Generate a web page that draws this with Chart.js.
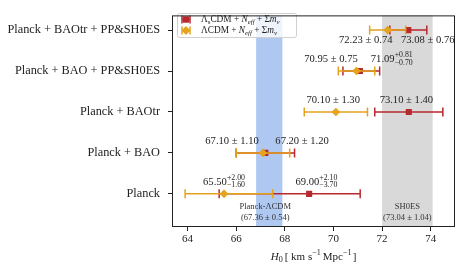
<!DOCTYPE html>
<html>
<head>
<meta charset="utf-8">
<script src="https://cdn.jsdelivr.net/npm/chart.js@4.4.0/dist/chart.umd.min.js"></script>
<style>
  html, body { margin: 0; padding: 0; background: #fff; }
  #wrap { width: 463px; height: 271px; }
</style>
</head>
<body>
<div id="wrap"><canvas id="chart"></canvas></div>
<script>
// rows top to bottom
const rows = ['Planck + BAOtr + PP&SH0ES', 'Planck + BAO + PP&SH0ES', 'Planck + BAOtr', 'Planck + BAO', 'Planck']
// Lambda_s CDM + Neff + sum m_nu (red)
const sH0 = [73.08, 71.09, 73.10, 67.20, 69.00]
const sUp = [0.76, 0.81, 1.40, 1.20, 2.10]
const sDn = [0.76, 0.70, 1.40, 1.20, 3.70]
// Lambda CDM + Neff + sum m_nu (yellow)
const lH0 = [72.23, 70.95, 70.10, 67.10, 65.50]
const lUp = [0.74, 0.75, 1.30, 1.10, 2.00]
const lDn = [0.74, 0.75, 1.30, 1.10, 1.60]
const xTicks = [64, 66, 68, 70, 72, 74]
const planck = { mean: 67.36, sig: 0.54 }
const shoes = { mean: 73.04, sig: 1.04 }

// where the value labels sit (x in H0 units, dy in px)
const labelPos = {
  s: [[73.88, 10], [72.40, -12], [73.00, -12], [68.71, -12], [69.30, -12]],
  l: [[71.33, 10], [69.90, -12], [69.99, -12], [65.83, -12], [65.50, -12]]
}

const RED = '#b8282e'
const YEL = '#e5a21c'
const SERIF = "'Liberation Serif', 'DejaVu Serif', serif"
const N = rows.length
const rowY = (i) => N - 1 - i

// draw a run of text pieces: {t, it, sub, sup, stack:[sup, sub]}
function rich(ctx, x, y, parts, size, align) {
  const font = (p, s) => `${p.it ? 'italic ' : ''}${s}px ${SERIF}`
  const small = size * 0.74
  const w = (p) => {
    if (p.stack) {
      ctx.font = font(p, small)
      return Math.max(ctx.measureText(p.stack[0]).width, ctx.measureText(p.stack[1]).width)
    }
    ctx.font = font(p, p.sub || p.sup ? small : size)
    return ctx.measureText(p.t).width + (p.gap || 0)
  }
  const total = parts.reduce((a, p) => a + w(p), 0)
  let cx = align === 'center' ? x - total / 2 : x
  ctx.textBaseline = 'middle'
  ctx.textAlign = 'left'
  for (const p of parts) {
    const pw = w(p)
    if (p.stack) {
      ctx.font = font(p, small)
      ctx.fillText(p.stack[0], cx, y - size * 0.38)
      ctx.fillText(p.stack[1], cx, y + size * 0.32)
    } else if (p.sub) {
      ctx.font = font(p, small)
      ctx.fillText(p.t, cx, y + size * 0.25)
    } else if (p.sup) {
      ctx.font = font(p, small)
      ctx.fillText(p.t, cx, y - size * 0.35)
    } else {
      ctx.font = font(p, size)
      ctx.fillText(p.t, cx, y)
    }
    cx += pw
  }
}

function valueParts(v, up, dn) {
  if (up === dn) return [{ t: `${v.toFixed(2)} ± ${up.toFixed(2)}` }]
  return [{ t: v.toFixed(2) }, { stack: ['+' + up.toFixed(2), '−' + dn.toFixed(2)] }]
}

const series = [
  { h: sH0, up: sUp, dn: sDn, color: RED, lbl: labelPos.s },
  { h: lH0, up: lUp, dn: lDn, color: YEL, lbl: labelPos.l }
]

const extras = {
  id: 'extras',
  beforeDatasetsDraw(chart) {
    const { ctx, chartArea: a, scales: { x } } = chart
    ctx.save()
    const band = (b, col) => {
      const x0 = x.getPixelForValue(b.mean - b.sig)
      const x1 = x.getPixelForValue(b.mean + b.sig)
      ctx.fillStyle = col
      ctx.fillRect(x0, a.top, x1 - x0, a.bottom - a.top)
    }
    band(planck, '#aec8f1')
    band(shoes, '#d9d9d9')
    ctx.fillStyle = '#333'
    ctx.textAlign = 'center'
    ctx.textBaseline = 'middle'
    ctx.font = `8.5px ${SERIF}`
    const px = x.getPixelForValue(planck.mean) - 4
    ctx.fillText('Planck-ΛCDM', px, 207)
    ctx.fillText(`(${planck.mean.toFixed(2)} ± ${planck.sig.toFixed(2)})`, px, 218)
    const sx = x.getPixelForValue(shoes.mean)
    ctx.fillText('SH0ES', sx, 207)
    ctx.fillText(`(${shoes.mean.toFixed(2)} ± ${shoes.sig.toFixed(2)})`, sx, 218)
    ctx.restore()
  },
  beforeDatasetDraw(chart, args) {
    const s = series[args.index]
    const { ctx, scales: { x, y } } = chart
    ctx.save()
    ctx.strokeStyle = s.color
    ctx.lineWidth = 1.5
    s.h.forEach((v, i) => {
      const py = y.getPixelForValue(rowY(i))
      const x0 = x.getPixelForValue(v - s.dn[i])
      const x1 = x.getPixelForValue(v + s.up[i])
      ctx.beginPath()
      ctx.moveTo(x0, py); ctx.lineTo(x1, py)
      ctx.moveTo(x0, py - 4.5); ctx.lineTo(x0, py + 4.5)
      ctx.moveTo(x1, py - 4.5); ctx.lineTo(x1, py + 4.5)
      ctx.stroke()
    })
    ctx.restore()
  },
  afterDatasetsDraw(chart) {
    const { ctx, chartArea: a, scales: { x, y } } = chart
    ctx.save()
    ctx.fillStyle = '#222'
    series.forEach((s) => {
      s.h.forEach((v, i) => {
        const [lx, dy] = s.lbl[i]
        rich(ctx, x.getPixelForValue(lx), y.getPixelForValue(rowY(i)) + dy, valueParts(v, s.up[i], s.dn[i]), 10.6, 'center')
      })
    })

    // legend
    const bx = 177, by = 13, bw = 119, bh = 24
    ctx.fillStyle = 'rgba(255,255,255,0.8)'
    ctx.strokeStyle = '#d0d0d0'
    ctx.lineWidth = 1
    ctx.beginPath()
    ctx.roundRect(bx + 0.5, by + 0.5, bw, bh, 2)
    ctx.fill(); ctx.stroke()
    const entries = [
      { color: RED, style: 'rect', parts: [{ t: 'Λ' }, { t: 's', sub: true }, { t: 'CDM + ' }, { t: 'N', it: true }, { t: 'eff', it: true, sub: true }, { t: ' + Σ' }, { t: 'm', it: true }, { t: 'ν', it: true, sub: true }] },
      { color: YEL, style: 'rectRot', parts: [{ t: 'ΛCDM + ' }, { t: 'N', it: true }, { t: 'eff', it: true, sub: true }, { t: ' + Σ' }, { t: 'm', it: true }, { t: 'ν', it: true, sub: true }] }
    ]
    entries.forEach((e, k) => {
      const ly = by + 6.5 + k * 11
      const mx = 186
      ctx.strokeStyle = e.color
      ctx.lineWidth = 1.5
      ctx.beginPath()
      ctx.moveTo(mx - 4, ly); ctx.lineTo(mx + 4, ly)
      ctx.moveTo(mx - 4, ly - 4); ctx.lineTo(mx - 4, ly + 4)
      ctx.moveTo(mx + 4, ly - 4); ctx.lineTo(mx + 4, ly + 4)
      ctx.stroke()
      ctx.fillStyle = e.color
      Chart.helpers.drawPoint(ctx, { pointStyle: e.style, radius: 4.2, borderWidth: 0 }, mx, ly)
      ctx.fill()
      ctx.fillStyle = '#222'
      rich(ctx, 201, ly, e.parts, 9.3, 'left')
    })

    // frame
    ctx.strokeStyle = '#222'
    ctx.lineWidth = 1
    ctx.strokeRect(a.left + 0.5, a.top + 0.5, a.right - a.left - 1, a.bottom - a.top - 1)

    // x title
    ctx.fillStyle = '#222'
    rich(ctx, (a.left + a.right) / 2, 257, [
      { t: 'H', it: true }, { t: '0', sub: true, gap: 2 }, { t: '[ km s' }, { t: '−1', sup: true, gap: 2 }, { t: 'Mpc' }, { t: '−1', sup: true, gap: 1 }, { t: ']' }
    ], 11, 'center')
    ctx.restore()
  }
}

new Chart(document.getElementById('chart'), {
  type: 'scatter',
  data: {
    datasets: [
      {
        label: 'ΛsCDM + Neff + Σmν',
        data: sH0.map((v, i) => ({ x: v, y: rowY(i) })),
        backgroundColor: RED,
        borderColor: RED,
        borderWidth: 0,
        pointStyle: 'rect',
        pointRadius: 4.3,
        order: 2
      },
      {
        label: 'ΛCDM + Neff + Σmν',
        data: lH0.map((v, i) => ({ x: v, y: rowY(i) })),
        backgroundColor: YEL,
        borderColor: YEL,
        borderWidth: 0,
        pointStyle: 'rectRot',
        pointRadius: 4.3,
        order: 1
      }
    ]
  },
  options: {
    animation: false,
    responsive: true,
    maintainAspectRatio: false,
    layout: { padding: { top: 7, right: 8, left: 0, bottom: 0 } },
    plugins: { legend: { display: false }, tooltip: { enabled: false } },
    scales: {
      x: {
        type: 'linear',
        min: 63.36,
        max: 75,
        afterBuildTicks: (s) => { s.ticks = xTicks.map((v) => ({ value: v })) },
        afterFit: (s) => { s.height = 44 },
        ticks: { color: '#222', font: { family: SERIF, size: 11 }, padding: 2, maxRotation: 0 },
        grid: { drawOnChartArea: false, drawTicks: true, tickLength: 4, tickColor: '#222' },
        border: { display: false }
      },
      y: {
        type: 'linear',
        min: -0.81,
        max: 4.36,
        afterBuildTicks: (s) => { s.ticks = rows.map((_, i) => ({ value: rowY(i) })) },
        afterFit: (s) => { s.width = 172 },
        ticks: {
          color: '#222',
          font: { family: SERIF, size: 12.3 },
          padding: 8,
          callback: (v) => rows[N - 1 - v]
        },
        grid: { drawOnChartArea: false, drawTicks: true, tickLength: 4, tickColor: '#222' },
        border: { display: false }
      }
    }
  },
  plugins: [extras]
})
</script>
</body>
</html>
